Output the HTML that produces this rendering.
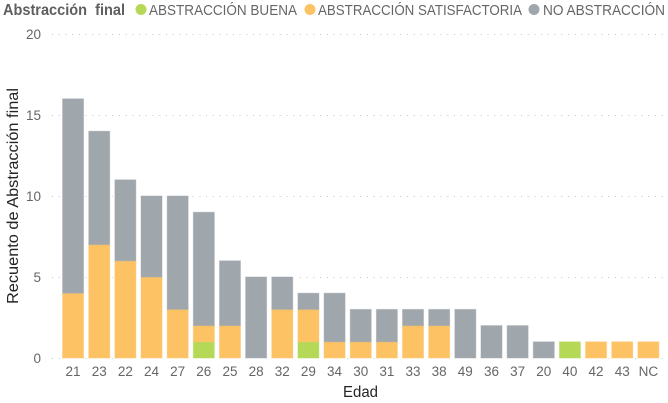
<!DOCTYPE html>
<html>
<head>
<meta charset="utf-8">
<style>
html,body{margin:0;padding:0;background:#fff;width:668px;height:403px;overflow:hidden}
svg{display:block}
text{font-family:"Liberation Sans",sans-serif}
</style>
</head>
<body>
<svg id="chart" width="668" height="403" viewBox="0 0 668 403" xmlns="http://www.w3.org/2000/svg">
  <g>
    <text x="3" y="15" font-size="15.5" font-weight="bold" fill="#5f5f5f" textLength="122" lengthAdjust="spacingAndGlyphs" xml:space="preserve">Abstracción  final</text>
    <circle cx="141" cy="9.5" r="5.5" fill="#b5d957"/>
    <text x="149" y="15" font-size="15" fill="#666" textLength="148" lengthAdjust="spacingAndGlyphs">ABSTRACCIÓN BUENA</text>
    <circle cx="310" cy="9.5" r="5.5" fill="#fcc264"/>
    <text x="318" y="15" font-size="15" fill="#666" textLength="204" lengthAdjust="spacingAndGlyphs">ABSTRACCIÓN SATISFACTORIA</text>
    <circle cx="534" cy="9.5" r="5.5" fill="#a0a7ac"/>
    <text x="543" y="15" font-size="15" fill="#666" textLength="122" lengthAdjust="spacingAndGlyphs">NO ABSTRACCIÓN</text>
  </g>
  <g id="grid"></g>
  <g id="yticks"></g>
  <g id="bars"></g>
  <g id="xticks"></g>
  <text transform="translate(18,304) rotate(-90)" font-size="15.5" fill="#252423" textLength="216" lengthAdjust="spacingAndGlyphs">Recuento de Abstracción final</text>
  <text x="343" y="397" font-size="15.5" fill="#252423" textLength="35" lengthAdjust="spacingAndGlyphs">Edad</text>
</svg>
<script>
var categories = ['21','23','22','24','27','26','25','28','32','29','34','30','31','33','38','49','36','37','20','40','42','43','NC'];
var buena = [0,0,0,0,0,1,0,0,0,1,0,0,0,0,0,0,0,0,0,1,0,0,0];
var satisfactoria = [4,7,6,5,3,1,2,0,3,2,1,1,1,2,2,0,0,0,0,0,1,1,1];
var noAbstraccion = [12,7,5,5,7,7,4,5,2,1,3,2,2,1,1,3,2,2,1,0,0,0,0];
var yTickValues = [0,5,10,15,20];

var NS = 'http://www.w3.org/2000/svg';
var PLOT_LEFT = 60;
var BAND = 26.15;
var BAR_W = 21;
var Y0 = 358;
var Y_SCALE = 16.2;
function xBand(i){ return PLOT_LEFT + BAND * i; }
function yScale(v){ return Y0 - v * Y_SCALE; }
function make(tag, attrs, parent){
  var el = document.createElementNS(NS, tag);
  for (var k in attrs) el.setAttribute(k, attrs[k]);
  parent.appendChild(el);
  return el;
}

var grid = document.getElementById('grid');
var yticks = document.getElementById('yticks');
yTickValues.forEach(function(v){
  var line = make('line', {x1:52, x2:668, y1:yScale(v)+0.5, y2:yScale(v)+0.5, stroke:'#c4c4c4', 'stroke-width':1, 'stroke-dasharray':'1 5.7'}, grid);
  
  
  var t = make('text', {x:41, y:yScale(v)+5, 'text-anchor':'end', 'font-size':13.5, fill:'#666'}, yticks);
  t.textContent = v;
  
  
});

var bars = document.getElementById('bars');
var xticks = document.getElementById('xticks');
var seriesList = [
  {key:'buena', values:buena, color:'#b5d957'},
  {key:'satisfactoria', values:satisfactoria, color:'#fcc264'},
  {key:'no-abstraccion', values:noAbstraccion, color:'#a0a7ac'}
];
categories.forEach(function(c, i){
  var x = xBand(i) + (BAND - BAR_W) / 2;
  var total = buena[i] + satisfactoria[i] + noAbstraccion[i];
  var halo = make('rect', {x:x-2, y:yScale(total)-1, width:BAR_W+4, height:Y0-yScale(total)+2, fill:'#fff'}, bars);
  
  
  var base = 0;
  seriesList.forEach(function(s){
    var v = s.values[i];
    if (v > 0) {
      var r = make('rect', {x:x, y:yScale(base+v), width:BAR_W, height:v*Y_SCALE, fill:s.color, stroke:s.color, 'stroke-opacity':0.45, 'stroke-width':1}, bars);
      
      
    }
    base += v;
  });
  var t = make('text', {x:x+BAR_W/2, y:376, 'text-anchor':'middle', 'font-size':13.5, fill:'#666'}, xticks);
  t.textContent = c;
  
  
});
</script>
</body>
</html>
